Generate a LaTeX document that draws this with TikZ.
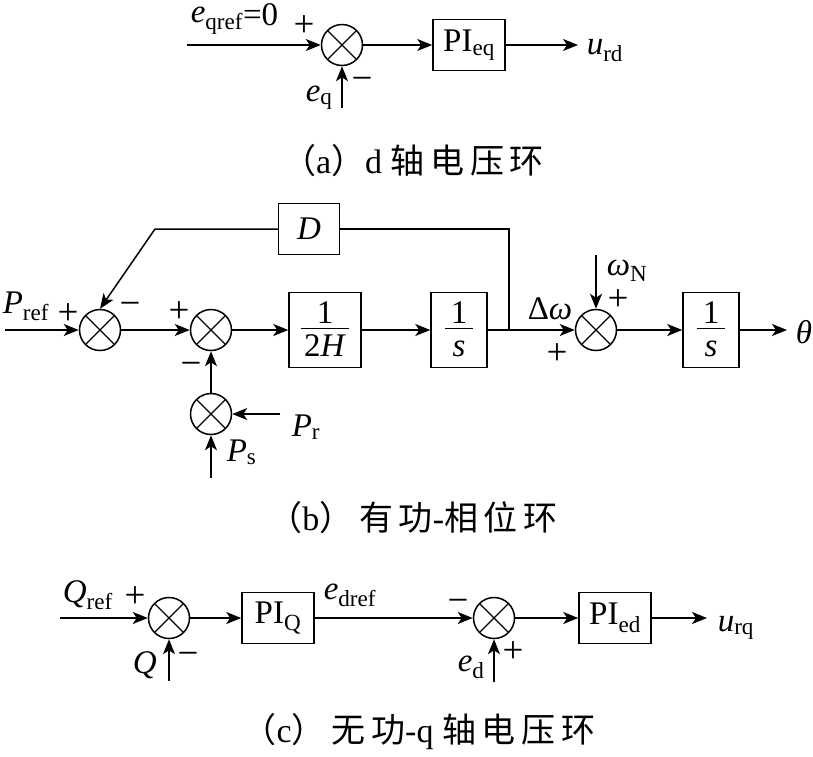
\documentclass[tikz,border=0pt]{standalone}
\usepackage{fontspec}
\setmainfont{Liberation Serif}
\newfontfamily\cjk[LetterSpace=17]{Noto Sans CJK SC}
\usetikzlibrary{arrows.meta}
\setlength{\arrayrulewidth}{1.4pt}
% variable with an upright subscript
\newcommand{\vsub}[2]{\textit{#1}\textsubscript{#2}}
% fraction written inside a transfer block
\newcommand{\blkfrac}[2]{%
  \begin{tabular}{@{\hspace{3pt}}c@{\hspace{3pt}}}
    \rule{0pt}{31pt}#1\\[-7pt]\hline
    \rule{0pt}{27pt}#2
  \end{tabular}}

\begin{document}
\begin{tikzpicture}[x=1pt, y=-1pt,
    font=\fontsize{33}{37}\selectfont,
    line width=1.5pt,
    >={Stealth[length=15pt, width=12pt, inset=4pt]},
    sumpt/.style={draw, circle, minimum size=41pt, inner sep=0pt,
      path picture={\draw[line width=1.3pt]
        (path picture bounding box.north west) -- (path picture bounding box.south east)
        (path picture bounding box.north east) -- (path picture bounding box.south west);}},
    blk/.style={draw, minimum width=72pt, minimum height=51pt, inner sep=0pt},
    fblk/.style={blk, minimum height=75pt},
    sgn/.style={inner sep=0pt, font=\fontsize{37}{40}\selectfont,
      text height=18.5pt, text depth=0pt},
    lbl/.style={inner sep=0pt, anchor=base west},
    capt/.style={inner sep=0pt, font=\fontsize{34}{38}\selectfont},
  ]
  \useasboundingbox (0,0) rectangle (813,756);

  % ------------------------------------------------------------------
  % (a) d-axis voltage loop
  % ------------------------------------------------------------------
  \node[sumpt] (sa) at (342,45) {};
  \node[blk] (pieq) at (469,45) {PI\textsubscript{eq}};
  \coordinate (ain) at (187,45);
  \coordinate (aeq) at (342,108);
  \coordinate (aout) at (578,45);
  \draw[->] (ain) -- (sa);
  \draw[->] (sa) -- (pieq);
  \draw[->] (pieq) -- (aout);
  \draw[->] (aeq) -- (sa);
  \node[lbl] (leqref) at (190,22) {\vsub{e}{qref}\raisebox{-3pt}{=0}};
  \node[sgn] (pa) at (304,27) {+};
  \node[lbl] (leq) at (305,101) {\vsub{e}{q}};
  \node[sgn] (ma) at (362,81) {−};
  \node[lbl] (lurd) at (586,54) {\vsub{u}{rd}};
  \node[capt] (capa) at (413,161)
    {{\cjk （}a{\cjk ）}d {\cjk 轴电压环}};

  % ------------------------------------------------------------------
  % (b) active power - phase loop
  % ------------------------------------------------------------------
  \node[sumpt] (sb1) at (100,330) {};
  \node[sumpt] (sb2) at (211,330) {};
  \node[fblk] (gh) at (325,330) {\blkfrac{1}{2\textit{H}}};
  \node[fblk, minimum width=56pt] (gs1) at (459,330)
    {\blkfrac{1}{\makebox[22pt]{\textit{s}}}};
  \node[sumpt] (sb3) at (596,330) {};
  \node[fblk, minimum width=56pt] (gs2) at (711,330)
    {\blkfrac{1}{\makebox[22pt]{\textit{s}}}};
  \node[sumpt] (sb4) at (211,414) {};
  \node[blk, minimum width=61pt] (dblk) at (309,229) {\textit{D}};
  \coordinate (bin) at (5,330);
  \coordinate (junc) at (509,330);
  \coordinate (fbk) at (155,229);
  \coordinate (bwn) at (596,255);
  \coordinate (bout) at (787,330);
  \coordinate (bpr) at (280,414);
  \coordinate (bps) at (211,478);

  \draw[->] (bin) -- (sb1);
  \draw[->] (sb1) -- (sb2);
  \draw[->] (sb2) -- (gh);
  \draw[->] (gh) -- (gs1);
  \draw[->] (gs1) -- (sb3);
  \draw[->] (sb3) -- (gs2);
  \draw[->] (gs2) -- (bout);
  \draw (junc) |- (dblk);
  \draw[->] (dblk) -- (fbk) -- (sb1.north);
  \draw[->] (bwn) -- (sb3);
  \draw[->] (sb4) -- (sb2);
  \draw[->] (bpr) -- (sb4);
  \draw[->] (bps) -- (sb4);

  \node[lbl] (lpref) at (2,313) {\vsub{P}{ref}};
  \node[sgn] (pb1) at (68,315) {+};
  \node[sgn] (mb1) at (130,306) {−};
  \node[sgn] (pb2) at (179,313) {+};
  \node[sgn] (mb2) at (191,366) {−};
  \node[lbl] (ldw) at (527,319) {Δ\textit{ω}};
  \node[sgn] (pb3) at (557,355) {+};
  \node[lbl] (lwn) at (606,275) {\textit{ω}\textsubscript{N}};
  \node[sgn] (pb4) at (618,301) {+};
  \node[lbl] (lth) at (795,343) {\textit{θ}};
  \node[lbl] (lpr) at (291,436) {\vsub{P}{r}};
  \node[lbl] (lps) at (226,461) {\vsub{P}{s}};
  \node[capt] (capb) at (413,518)
    {{\cjk （}b{\cjk ）有功}-{\cjk 相位环}};

  % ------------------------------------------------------------------
  % (c) reactive power - q-axis voltage loop
  % ------------------------------------------------------------------
  \node[sumpt] (sc1) at (169,618) {};
  \node[blk] (piq) at (278,618) {PI\textsubscript{Q}};
  \node[sumpt] (sc2) at (494,618) {};
  \node[blk] (pied) at (615,618) {PI\textsubscript{ed}};
  \coordinate (cin) at (60,618);
  \coordinate (cq) at (169,681);
  \coordinate (ced) at (494,682);
  \coordinate (cout) at (707,618);

  \draw[->] (cin) -- (sc1);
  \draw[->] (cq) -- (sc1);
  \draw[->] (sc1) -- (piq);
  \draw[->] (piq) -- (sc2);
  \draw[->] (ced) -- (sc2);
  \draw[->] (sc2) -- (pied);
  \draw[->] (pied) -- (cout);

  \node[lbl] (lqref) at (62,602) {\vsub{Q}{ref}};
  \node[sgn] (pc1) at (135,598) {+};
  \node[lbl] (lq) at (132,673) {\textit{Q}};
  \node[sgn] (mc1) at (188,656) {−};
  \node[lbl] (ledref) at (323,599) {\vsub{e}{dref}};
  \node[sgn] (mc2) at (458,603) {−};
  \node[lbl] (led) at (457,671) {\vsub{e}{d}};
  \node[sgn] (pc2) at (513,653) {+};
  \node[lbl] (lurq) at (717,631) {\vsub{u}{rq}};
  \node[capt] (capc) at (419,732)
    {{\cjk （}c{\cjk ）无功}-q {\cjk 轴电压环}};
\end{tikzpicture}
\end{document}
